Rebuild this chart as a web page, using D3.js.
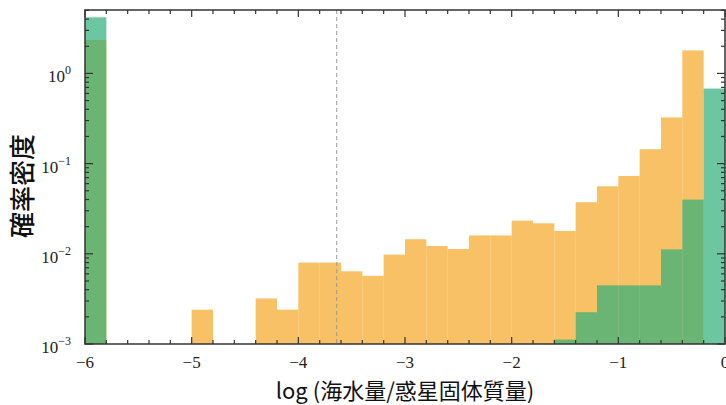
<!DOCTYPE html>
<html><head><meta charset="utf-8">
<script src="https://cdn.jsdelivr.net/npm/d3@7"></script>
<style>body{margin:0;background:#fff}svg{display:block}</style>
</head><body>
<svg id="chart" width="726" height="405"></svg>
<script>
// bin left edges (width 0.2) from -6 to -0.2
const binStarts = d3.range(30).map(i => +(-6 + 0.2 * i).toFixed(1));
const binWidth = 0.2;
// orange histogram density (0 = empty)
const orangeValues = [2.34,0,0,0,0, 0.0024,0,0,0.0032,0.0024, 0.0080,0.0080,0.0064,0.0057,0.0098, 0.0145,0.0122,0.0113,0.0160,0.0160, 0.0233,0.0218,0.0179,0.0373,0.0561, 0.073,0.1445,0.325,1.80,0];
// teal histogram density
const tealValues = [4.19,0,0,0,0, 0,0,0,0,0, 0,0,0,0,0, 0,0,0,0,0, 0,0,0.00112,0.00225,0.00447, 0.00447,0.00447,0.0112,0.0399,0.68];
const xTicks = [-6,-5,-4,-3,-2,-1,0];
const yTicks = [1e-3,1e-2,1e-1,1e0];
const yExponents = ["−3","−2","−1","0"];
const dashedX = -3.64;

const svg = d3.select("#chart");
const m = {left:85, right:1, top:10, bottom:61};
const W = 726, H = 405;
const x = d3.scaleLinear().domain([-6,0]).range([m.left, W - m.right]);
const y = d3.scaleLog().domain([1e-3,5.05]).range([H - m.bottom, m.top]);
const y0 = y.range()[0];

const data = binStarts.map((b,i) => ({b, o: orangeValues[i], t: tealValues[i]}));

const g = svg.append("g");
g.selectAll("rect.o").data(data.filter(d => d.o > 0)).join("rect")
  .attr("x", d => x(d.b)).attr("width", d => x(d.b + binWidth) - x(d.b))
  .attr("y", d => y(d.o)).attr("height", d => y0 - y(d.o))
  .attr("fill", "#f5a623").attr("fill-opacity", 0.7);
g.selectAll("rect.t").data(data.filter(d => d.t > 0)).join("rect")
  .attr("x", d => x(d.b)).attr("width", d => x(d.b + binWidth) - x(d.b))
  .attr("y", d => y(d.t)).attr("height", d => y0 - y(d.t))
  .attr("fill", "#2dae7a").attr("fill-opacity", 0.7);

// dashed line
svg.append("line").attr("x1", x(dashedX)).attr("x2", x(dashedX))
  .attr("y1", m.top).attr("y2", y0)
  .attr("stroke", "#999").attr("stroke-width", 1).attr("stroke-dasharray", "4,3");

// frame
svg.append("rect").attr("x", m.left).attr("y", m.top)
  .attr("width", x(0) - m.left).attr("height", y0 - m.top)
  .attr("fill", "none").attr("stroke", "#333").attr("stroke-width", 1.5);

// ticks (inward)
const xMinor = d3.range(-6, 0.01, 0.2).map(v => +v.toFixed(1)).filter(v => Math.abs(v - Math.round(v)) > 1e-6);
const yMinor = [];
for (let e = -3; e <= 0; e++) for (let k = 2; k <= 9; k++) { const v = k * Math.pow(10, e); if (v <= 5.05) yMinor.push(v); }

const tk = svg.append("g").attr("stroke", "#333").attr("stroke-width", 1.2);
xTicks.forEach(v => {
  tk.append("line").attr("x1", x(v)).attr("x2", x(v)).attr("y1", y0).attr("y2", y0 - 7);
  tk.append("line").attr("x1", x(v)).attr("x2", x(v)).attr("y1", m.top).attr("y2", m.top + 7);
});
xMinor.forEach(v => {
  tk.append("line").attr("x1", x(v)).attr("x2", x(v)).attr("y1", y0).attr("y2", y0 - 4);
  tk.append("line").attr("x1", x(v)).attr("x2", x(v)).attr("y1", m.top).attr("y2", m.top + 4);
});
yTicks.forEach(v => {
  tk.append("line").attr("x1", m.left).attr("x2", m.left + 8).attr("y1", y(v)).attr("y2", y(v));
  tk.append("line").attr("x1", x(0)).attr("x2", x(0) - 8).attr("y1", y(v)).attr("y2", y(v));
});
yMinor.forEach(v => {
  tk.append("line").attr("x1", m.left).attr("x2", m.left + 4).attr("y1", y(v)).attr("y2", y(v));
  tk.append("line").attr("x1", x(0)).attr("x2", x(0) - 4).attr("y1", y(v)).attr("y2", y(v));
});

// x tick labels
svg.append("g").selectAll("text").data(xTicks).join("text")
  .attr("x", d => x(d)).attr("y", y0 + 24).attr("text-anchor", "middle")
  .attr("font-family", "Liberation Serif, serif").attr("font-size", 17).attr("fill", "#222")
  .text(d => d < 0 ? "−" + Math.abs(d) : String(d));

// y tick labels
const yl = svg.append("g").selectAll("text").data(yTicks).join("text")
  .attr("x", m.left - 14).attr("y", d => y(d) + 9).attr("text-anchor", "end")
  .attr("font-family", "Liberation Serif, serif").attr("font-size", 17).attr("fill", "#222");
yl.append("tspan").text("10");
yl.append("tspan").attr("dy", -8).attr("font-size", 12).text((d,i) => yExponents[i]);

// axis labels
svg.append("text").attr("x", (m.left + x(0)) / 2).attr("y", 399).attr("text-anchor", "middle")
  .attr("font-family", "Noto Sans CJK JP, sans-serif").attr("font-size", 22).attr("fill", "#111")
  .text("log (海水量/惑星固体質量)");
svg.append("text").attr("transform", "translate(32,186) rotate(-90)").attr("text-anchor", "middle")
  .attr("font-family", "Noto Sans CJK JP, sans-serif").attr("font-size", 26).attr("font-weight", 500).attr("fill", "#111")
  .text("確率密度");
</script>
</body></html>
